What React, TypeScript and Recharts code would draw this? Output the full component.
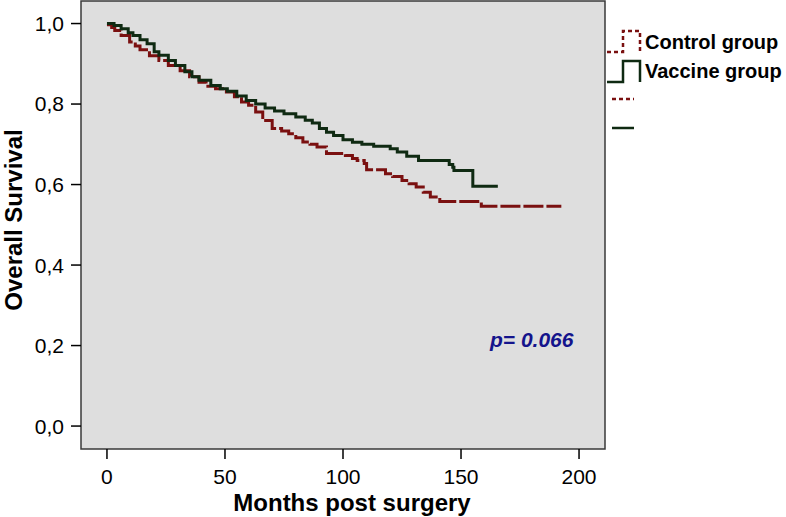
import { LineChart, Line, XAxis, YAxis, CartesianGrid, ReferenceArea, Label, Customized } from "recharts";

const FONT = '"Liberation Sans", Arial, Helvetica, sans-serif';
const RED = "#7a1010";
const GREEN = "#0f2a12";

// Kaplan-Meier steps: [month, survival]
const vaccineMonths = [0, 3, 6, 9, 11, 14, 17, 20, 22, 26, 29, 33, 36, 39, 44, 48, 51, 55, 59, 63, 67, 71, 75, 80, 84, 87, 90, 93, 96, 100, 104, 108, 113, 120, 123, 127, 132, 145, 146.5, 147, 155, 165.6];
const vaccineSurv = [1.0, 0.995, 0.987, 0.977, 0.97, 0.96, 0.95, 0.93, 0.921, 0.908, 0.896, 0.88, 0.868, 0.859, 0.846, 0.838, 0.832, 0.82, 0.809, 0.8, 0.79, 0.783, 0.776, 0.768, 0.76, 0.753, 0.739, 0.73, 0.722, 0.711, 0.705, 0.7, 0.695, 0.689, 0.681, 0.67, 0.66, 0.65, 0.643, 0.635, 0.596, 0.596];

const controlMonths = [0, 2, 3.3, 6, 9.6, 12, 14, 18, 22, 26, 31, 35, 39, 42, 46, 50.6, 54, 57, 60, 63, 66, 70, 74, 77, 80, 83, 86, 89, 93, 101, 104, 106, 109, 110, 118, 121, 125, 128, 131, 134, 137, 141, 158.6, 192.5];
const controlSurv = [0.997, 0.99, 0.983, 0.97, 0.954, 0.944, 0.935, 0.92, 0.908, 0.896, 0.883, 0.868, 0.854, 0.844, 0.838, 0.83, 0.818, 0.805, 0.797, 0.78, 0.759, 0.739, 0.733, 0.726, 0.716, 0.706, 0.7, 0.693, 0.677, 0.672, 0.665, 0.66, 0.652, 0.637, 0.627, 0.62, 0.61, 0.602, 0.594, 0.581, 0.569, 0.558, 0.546, 0.546];

const xTicks = [0, 50, 100, 150, 200];
const yTicks = [0, 0.2, 0.4, 0.6, 0.8, 1.0];
const legendLabels = ["Control group", "Vaccine group"];
const pValue = "p= 0.066";

const vaccine = vaccineMonths.map((m, i) => ({ m, s: vaccineSurv[i] }));
const control = controlMonths.map((m, i) => ({ m, s: controlSurv[i] }));

const X_DOMAIN: [number, number] = [-11, 211];
const Y_DOMAIN: [number, number] = [-0.057, 1.056];

function Extras() {
  return (
    <g fontFamily={FONT}>
      <text x={490} y={347} fontSize={21} fontWeight="bold" fontStyle="italic" fill="#14148c">
        {pValue}
      </text>
      <path d="M607,52 H623 V31 H640 V52" fill="none" stroke={RED} strokeWidth={2.5} strokeDasharray="4 3" />
      <path d="M607,82 H623 V61 H640 V82" fill="none" stroke={GREEN} strokeWidth={2.5} />
      <path d="M612,99 H634" stroke={RED} strokeWidth={2.5} strokeDasharray="4 3" />
      <path d="M612,128 H634" stroke={GREEN} strokeWidth={2.5} />
      <text x={645} y={49} fontSize={20} fontWeight="bold" fill="#000">{legendLabels[0]}</text>
      <text x={645} y={78} fontSize={20} fontWeight="bold" fill="#000">{legendLabels[1]}</text>
    </g>
  );
}

export default function App() {
  return (
    <div style={{ position: "absolute", left: 0, top: 0, width: 786, height: 517, background: "#fff" }}>
      <LineChart width={786} height={517} margin={{ top: 1, right: 181, bottom: 0, left: 0 }}>
        <CartesianGrid horizontal={false} vertical={false} fill="#dedede" />
        <XAxis
          type="number"
          dataKey="m"
          domain={X_DOMAIN}
          ticks={xTicks}
          allowDataOverflow
          height={68}
          tickSize={10}
          tickMargin={10}
          axisLine={false}
          tickLine={{ stroke: "#000", strokeWidth: 1.5 }}
          tick={{ fill: "#000", fontSize: 21, fontFamily: FONT }}
        >
          <Label
            content={() => (
              <text x={352} y={511} textAnchor="middle" fontSize={24} fontWeight="bold" fontFamily={FONT} fill="#000">
                Months post surgery
              </text>
            )}
          />
        </XAxis>
        <YAxis
          type="number"
          dataKey="s"
          domain={Y_DOMAIN}
          ticks={yTicks}
          allowDataOverflow
          width={81}
          tickSize={10}
          tickMargin={7}
          axisLine={false}
          tickLine={{ stroke: "#000", strokeWidth: 1.5 }}
          tick={{ fill: "#000", fontSize: 21, fontFamily: FONT }}
          tickFormatter={(v: number) => v.toFixed(1).replace(".", ",")}
        >
          <Label
            content={() => (
              <text
                x={22}
                y={220}
                transform="rotate(-90, 22, 220)"
                textAnchor="middle"
                fontSize={24}
                fontWeight="bold"
                fontFamily={FONT}
                fill="#000"
              >
                Overall Survival
              </text>
            )}
          />
        </YAxis>
        <ReferenceArea
          x1={X_DOMAIN[0]}
          x2={X_DOMAIN[1]}
          y1={Y_DOMAIN[0]}
          y2={Y_DOMAIN[1]}
          fill="none"
          stroke="#3a3a3a"
          strokeWidth={1.5}
          ifOverflow="visible"
        />
        <Line
          data={control}
          dataKey="s"
          type="stepAfter"
          stroke={RED}
          strokeWidth={3}
          strokeDasharray="20 3"
          dot={false}
          isAnimationActive={false}
        />
        <Line
          data={vaccine}
          dataKey="s"
          type="stepAfter"
          stroke={GREEN}
          strokeWidth={3}
          dot={false}
          isAnimationActive={false}
        />
        <Customized component={Extras} />
      </LineChart>
    </div>
  );
}
